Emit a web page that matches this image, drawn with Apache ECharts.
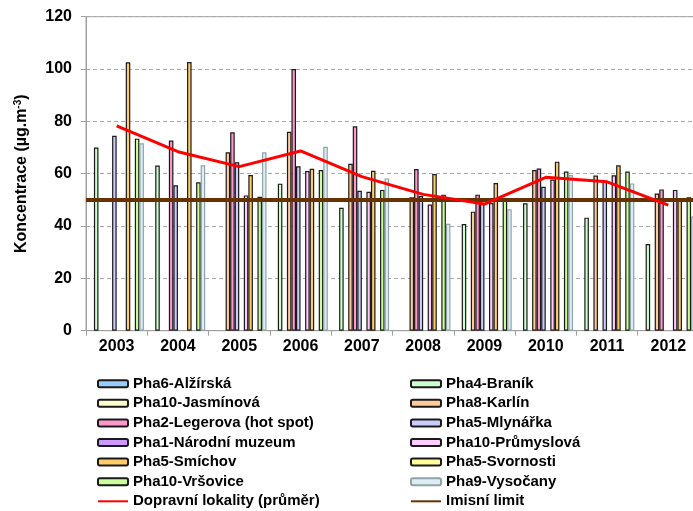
<!DOCTYPE html>
<html>
<head>
<meta charset="utf-8">
<script src="https://cdn.jsdelivr.net/npm/echarts@6/dist/echarts.min.js"></script>
<style>
html,body{margin:0;padding:0;background:#fff;}
#c{width:693px;height:511px;}
</style>
</head>
<body>
<div id="c"></div>
<script>
var years = ['2003','2004','2005','2006','2007','2008','2009','2010','2011','2012'];
var yTicks = [0, 20, 40, 60, 80, 100, 120];

var alzirska   = [null,null,null,null,null,null,null,null,null,null];
var branik     = [70.0,63.1,null,56.2,47.0,null,40.8,48.7,43.2,33.1];
var jasminova  = [null,null,null,null,null,null,null,null,null,null];
var karlin     = [null,null,68.2,76.0,63.8,51.0,45.5,61.4,59.3,52.4];
var legerova   = [null,72.7,75.8,100.0,78.1,61.8,52.0,62.0,null,54.0];
var mlynarka   = [74.5,55.6,64.4,62.8,53.5,51.5,48.4,55.0,57.2,null];
var narodni    = [null,null,null,null,null,null,null,null,null,null];
var prumyslova = [null,null,51.7,61.0,53.1,48.2,48.8,57.8,59.4,53.8];
var smichov    = [102.6,102.7,59.5,61.9,61.1,59.9,56.4,64.6,63.2,50.2];
var svornosti  = [null,null,null,null,null,null,null,null,null,null];
var vrsovice   = [73.4,56.7,51.2,61.4,53.8,52.0,50.3,60.8,60.8,51.0];
var vysocany   = [71.6,63.2,68.2,70.3,58.2,40.9,46.4,59.5,56.3,43.6];
var prumer     = [78.3,68.4,62.7,68.7,58.9,52.1,48.4,58.6,56.9,48.0];
var limit      = 50;

var barDefs = [
  ['Pha6-Alžírská', alzirska, '#99CCFF', '#1a1a1a'],
  ['Pha4-Braník', branik, '#CCFFCC', '#1a1a1a'],
  ['Pha10-Jasmínová', jasminova, '#FFFFCC', '#1a1a1a'],
  ['Pha8-Karlín', karlin, '#FFCC99', '#1a1a1a'],
  ['Pha2-Legerova (hot spot)', legerova, '#FF99CC', '#1a1a1a'],
  ['Pha5-Mlynářka', mlynarka, '#CCCCFF', '#1a1a1a'],
  ['Pha1-Národní muzeum', narodni, '#CC99FF', '#1a1a1a'],
  ['Pha10-Průmyslová', prumyslova, '#FFCCFF', '#1a1a1a'],
  ['Pha5-Smíchov', smichov, '#FFCC66', '#1a1a1a'],
  ['Pha5-Svornosti', svornosti, '#FFFF99', '#1a1a1a'],
  ['Pha10-Vršovice', vrsovice, '#CCFF99', '#1a1a1a'],
  ['Pha9-Vysočany', vysocany, '#DDEEF3', '#8FA3AC']
];

var FONT = 'Liberation Sans, Arial, sans-serif';
var FS = 16;
var LFS = 15;

var series = barDefs.map(function (d) {
  return {
    name: d[0], type: 'bar', data: d[1],
    barGap: '0%', barCategoryGap: '11%',
    itemStyle: { color: d[2], borderColor: d[3], borderWidth: 1.2 },
    animation: false
  };
});
series.push({
  name: 'Dopravní lokality (průměr)', type: 'line', data: prumer,
  symbol: 'none', smooth: false,
  lineStyle: { color: '#FF0000', width: 3 },
  itemStyle: { color: '#FF0000' },
  z: 5, animation: false
});
series.push({
  name: 'Imisní limit', type: 'line', data: [],
  symbol: 'none',
  lineStyle: { color: '#663300', width: 4 },
  itemStyle: { color: '#663300' },
  markLine: {
    silent: true, symbol: ['none','none'], animation: false,
    label: { show: false },
    lineStyle: { color: '#663300', width: 4, type: 'solid' },
    data: [{ yAxis: limit }]
  },
  z: 6, animation: false
});

var noDot = { color: 'rgba(0,0,0,0)', borderColor: 'rgba(0,0,0,0)', borderWidth: 0 };

var legendCommon = {
  orient: 'vertical', padding: 0, height: 160,
  itemWidth: 30, itemHeight: 7, itemGap: 1.6,
  textStyle: { fontFamily: FONT, fontWeight: 'bold', fontSize: LFS, color: '#000', lineHeight: 18 },
  selectedMode: false
};

var option = {
  animation: false,
  backgroundColor: '#fff',
  grid: { left: 86, width: 613, top: 16.7, height: 314, outerBoundsMode: 'none', containLabel: false,
          show: true, borderColor: '#a0a0a0', borderWidth: 1 },
  legend: [
    Object.assign({}, legendCommon, {
      left: 97, top: 374.7,
      data: ['Pha6-Alžírská','Pha10-Jasmínová','Pha2-Legerova (hot spot)','Pha1-Národní muzeum','Pha5-Smíchov','Pha10-Vršovice',
             { name: 'Dopravní lokality (průměr)', itemStyle: noDot }]
    }),
    Object.assign({}, legendCommon, {
      left: 410, top: 374.7,
      data: ['Pha4-Braník','Pha8-Karlín','Pha5-Mlynářka','Pha10-Průmyslová','Pha5-Svornosti','Pha9-Vysočany',
             { name: 'Imisní limit', itemStyle: noDot }]
    })
  ],
  xAxis: {
    type: 'category', data: years,
    axisLine: { lineStyle: { color: '#a0a0a0', width: 1 } },
    axisTick: { show: true, length: 5, lineStyle: { color: '#a0a0a0' } },
    axisLabel: { fontFamily: FONT, fontWeight: 'bold', fontSize: FS, color: '#000', margin: 8 }
  },
  yAxis: {
    type: 'value', min: yTicks[0], max: yTicks[yTicks.length-1], interval: 20,
    name: '{a|Koncentrace (µg.m}{s|-3}{a|)}',
    nameLocation: 'middle', nameGap: 55, nameRotate: 90,
    nameTextStyle: {
      rich: {
        a: { fontFamily: FONT, fontWeight: 'bold', fontSize: FS, color: '#000', lineHeight: 18 },
        s: { fontFamily: FONT, fontWeight: 'bold', fontSize: 10, color: '#000', verticalAlign: 'top', lineHeight: 18 }
      }
    },
    axisLine: { show: true, lineStyle: { color: '#a0a0a0', width: 1 } },
    axisTick: { show: true, length: 5, lineStyle: { color: '#a0a0a0' } },
    axisLabel: { fontFamily: FONT, fontWeight: 'bold', fontSize: FS, color: '#000', margin: 14,
      formatter: function (v) { return yTicks.indexOf(v) >= 0 ? String(v) : ''; } },
    splitLine: { show: true, lineStyle: { color: '#aaaaaa', type: [4, 3], width: 1 } }
  },
  series: series
};

var chart = echarts.init(document.getElementById('c'), null, { renderer: 'canvas' });
chart.setOption(option);
</script>
</body>
</html>
